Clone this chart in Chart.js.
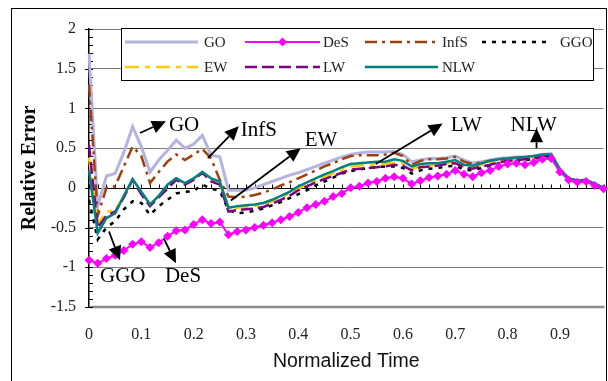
<!DOCTYPE html>
<html><head><meta charset="utf-8">
<script src="https://cdn.jsdelivr.net/npm/chart.js@4/dist/chart.umd.min.js"></script>
<style>html,body{margin:0;padding:0;background:#fff}#wrap{width:608px;height:381px}</style>
</head><body><div id="wrap"><canvas id="c" width="608" height="381"></canvas></div>
<script>
const times = [0,0.017,0.033,0.05,0.067,0.083,0.1,0.117,0.133,0.15,0.167,0.183,0.2,0.217,0.233,0.25,0.267,0.283,0.3,0.317,0.333,0.35,0.367,0.383,0.4,0.417,0.433,0.45,0.467,0.483,0.5,0.517,0.533,0.55,0.567,0.583,0.6,0.617,0.633,0.65,0.667,0.683,0.7,0.717,0.733,0.75,0.767,0.783,0.8,0.817,0.833,0.85,0.867,0.883,0.9,0.917,0.933,0.95,0.967,0.983];
const xTickLabels = ['0','0.1','0.2','0.3','0.4','0.5','0.6','0.7','0.8','0.9'];
const yTickValues = [2,1.5,1,0.5,0,-0.5,-1,-1.5];

const GO   = [1.69,-0.23,0.15,0.18,0.45,0.77,0.52,0.2,0.35,0.47,0.6,0.5,0.55,0.66,0.41,0.39,-0.03,-0.03,-0.03,0.0,0.04,0.08,0.12,0.16,0.19,0.23,0.27,0.31,0.35,0.39,0.42,0.44,0.45,0.45,0.45,0.46,0.42,0.33,0.35,0.37,0.37,0.38,0.40,0.35,0.31,0.33,0.35,0.37,0.38,0.39,0.39,0.40,0.42,0.43,0.24,0.12,0.09,0.10,0.05,0.0];
const DeS  = [-0.91,-0.95,-0.89,-0.85,-0.79,-0.71,-0.68,-0.75,-0.69,-0.61,-0.54,-0.53,-0.46,-0.40,-0.45,-0.43,-0.59,-0.55,-0.53,-0.50,-0.47,-0.44,-0.40,-0.36,-0.31,-0.25,-0.21,-0.17,-0.11,-0.07,0.0,0.02,0.06,0.08,0.12,0.14,0.12,0.05,0.09,0.13,0.15,0.17,0.22,0.17,0.14,0.19,0.22,0.27,0.30,0.31,0.29,0.32,0.36,0.37,0.20,0.10,0.07,0.08,0.03,-0.01];
const InfS = [1.3,-0.35,0.0,0.02,0.27,0.52,0.4,0.06,0.2,0.33,0.42,0.35,0.42,0.49,0.37,0.1,-0.11,-0.12,-0.11,-0.09,-0.06,-0.02,0.03,0.07,0.12,0.17,0.22,0.27,0.31,0.36,0.40,0.41,0.41,0.41,0.42,0.44,0.40,0.29,0.34,0.36,0.36,0.37,0.39,0.33,0.30,0.32,0.34,0.36,0.37,0.38,0.38,0.39,0.40,0.41,0.22,0.12,0.09,0.10,0.05,0.0];
const GGO  = [-0.15,-0.65,-0.5,-0.42,-0.27,-0.17,-0.19,-0.34,-0.23,-0.15,-0.07,-0.05,-0.04,0.04,-0.01,-0.04,-0.28,-0.32,-0.31,-0.29,-0.26,-0.22,-0.18,-0.13,-0.08,-0.03,0.03,0.08,0.13,0.18,0.21,0.23,0.25,0.26,0.27,0.27,0.25,0.18,0.22,0.24,0.25,0.27,0.28,0.23,0.22,0.25,0.28,0.31,0.33,0.34,0.35,0.36,0.39,0.40,0.21,0.11,0.08,0.09,0.04,-0.01];
const EW   = [0.38,-0.45,-0.3,-0.28,-0.1,0.11,-0.05,-0.21,-0.1,0.0,0.12,0.05,0.11,0.2,0.1,0.06,-0.26,-0.25,-0.24,-0.23,-0.21,-0.17,-0.12,-0.07,-0.01,0.04,0.09,0.14,0.18,0.23,0.27,0.28,0.29,0.30,0.30,0.32,0.31,0.24,0.27,0.28,0.29,0.31,0.33,0.27,0.26,0.29,0.31,0.34,0.35,0.36,0.37,0.38,0.41,0.41,0.22,0.11,0.08,0.09,0.04,-0.01];
const LW   = [0.54,-0.5,-0.35,-0.3,-0.12,0.1,-0.08,-0.23,-0.12,-0.01,0.1,0.04,0.1,0.19,0.08,0.04,-0.3,-0.28,-0.27,-0.26,-0.24,-0.2,-0.15,-0.1,-0.03,0.02,0.07,0.11,0.15,0.19,0.23,0.24,0.25,0.26,0.27,0.29,0.28,0.22,0.26,0.27,0.28,0.30,0.31,0.26,0.24,0.27,0.29,0.32,0.34,0.35,0.36,0.37,0.40,0.41,0.22,0.11,0.08,0.09,0.04,-0.01];
const NLW  = [0.22,-0.57,-0.38,-0.32,-0.1,0.11,-0.05,-0.21,-0.1,0.04,0.12,0.06,0.12,0.2,0.12,0.08,-0.25,-0.23,-0.22,-0.21,-0.19,-0.15,-0.10,-0.05,0.02,0.07,0.12,0.17,0.21,0.26,0.30,0.31,0.32,0.33,0.33,0.36,0.34,0.27,0.30,0.31,0.31,0.33,0.35,0.29,0.28,0.31,0.34,0.36,0.37,0.38,0.39,0.40,0.42,0.42,0.23,0.12,0.09,0.10,0.05,0.0];

// annotation labels and arrows in data coordinates (category index, value)
const noteTexts  = ['GO','InfS','EW','LW','NLW','GGO','DeS'];
const noteX      = [9.16,17.4,24.74,41.47,48.34,1.26,8.71];
const noteY      = [0.79,0.725,0.6,0.79,0.79,-1.11,-1.11];
const arrowFrom  = [[5.84,0.69],[13.63,0.375],[16.27,-0.16],[32.88,0.3],[51.32,0.5],[2.29,-0.55],[8.59,-0.64]];
const arrowTo    = [[8.82,0.84],[17.18,0.775],[24.28,0.5],[40.55,0.81],[51.32,0.75],[3.55,-0.91],[9.97,-0.95]];

const SERIF = '"Liberation Serif","Times New Roman",serif';
const SANS = '"Liberation Sans",Arial,sans-serif';

const seriesNames = ['GO','DeS','InfS','GGO','EW','LW','NLW'];
const seriesData = [GO,DeS,InfS,GGO,EW,LW,NLW];
const seriesColor = ['#b4b4de','#ff00ff','#a0400c','#000000','#ffcc00','#800080','#008080'];
const seriesDash = [[],[],[12,5,3,5],[4,6],[14,6,5,6],[12,5],[]];
const seriesWidth = [3,2,2.5,2.5,2.5,2.5,2.5];
const seriesOrder = [6,-1,4,3,2,1,0];

const datasets = seriesNames.map((n,i)=>({
  label:n, data:seriesData[i], borderColor:seriesColor[i], backgroundColor:seriesColor[i],
  borderDash:seriesDash[i], borderWidth:seriesWidth[i], tension:0, order:seriesOrder[i],
  pointRadius: n==='DeS'?4.5:0, pointStyle:'rectRot', pointBorderWidth:0, pointHoverRadius:0,
  borderCapStyle:'butt'
}));

function arrow(ctx,x1,y1,x2,y2){
  const a=Math.atan2(y2-y1,x2-x1), L=14, W=6.5;
  const bx=x2-L*Math.cos(a), by=y2-L*Math.sin(a);
  ctx.beginPath();ctx.moveTo(x1,y1);ctx.lineTo(bx,by);ctx.stroke();
  ctx.beginPath();ctx.moveTo(x2,y2);
  ctx.lineTo(bx+W*Math.sin(a),by-W*Math.cos(a));
  ctx.lineTo(bx-W*Math.sin(a),by+W*Math.cos(a));
  ctx.closePath();ctx.fill();
}

const decor = {
  id:'decor',
  beforeDraw(chart){
    const ctx=chart.ctx;
    ctx.save();ctx.fillStyle='#fff';ctx.fillRect(0,0,chart.width,chart.height);
    ctx.strokeStyle='#000';ctx.lineWidth=1;
    ctx.strokeRect(11.5,8.5,595,400);
    ctx.restore();
  },
  beforeDatasetsDraw(chart){
    const ctx=chart.ctx, xs=chart.scales.x, ys=chart.scales.y, ca=chart.chartArea;
    ctx.save();
    ctx.strokeStyle='#8c8c8c';ctx.lineWidth=2.5;
    ctx.beginPath();ctx.moveTo(ca.left,ys.getPixelForValue(-1.5));ctx.lineTo(ca.right+1,ys.getPixelForValue(-1.5));ctx.stroke();
    const y0=Math.round(ys.getPixelForValue(0))+0.5;
    ctx.strokeStyle='#000';ctx.lineWidth=1;
    ctx.beginPath();ctx.moveTo(ca.left,y0);ctx.lineTo(ca.right,y0);ctx.stroke();
    ctx.beginPath();
    for(let i=0;i<times.length;i++){
      const x=Math.round(xs.getPixelForValue(i))+0.5;
      ctx.moveTo(x,y0);ctx.lineTo(x,y0-4);
    }
    ctx.stroke();
    ctx.beginPath();
    for(let k=-15;k<=20;k++){
      const y=Math.round(ys.getPixelForValue(k/10))+0.5;
      if(k%5===0){ctx.moveTo(ca.left-4,y);ctx.lineTo(ca.left+4,y);}
      else {ctx.moveTo(ca.left,y);ctx.lineTo(ca.left+4,y);}
    }
    ctx.stroke();
    ctx.restore();
  },
  afterDatasetsDraw(chart){
    const ctx=chart.ctx, xs=chart.scales.x, ys=chart.scales.y;
    ctx.save();
    const bx=121.5, by=28.5, bw=472, bh=52;
    ctx.fillStyle='#fff';ctx.fillRect(bx,by,bw,bh);
    ctx.strokeStyle='#000';ctx.lineWidth=1;ctx.strokeRect(bx,by,bw,bh);
    const colX=[[125,198,204],[245,320,323],[365,438,442],[482,548,560]];
    const rowY=[42,67];
    ctx.font='15px '+SERIF;ctx.textBaseline='middle';ctx.textAlign='left';
    seriesNames.forEach((name,k)=>{
      const r=k<4?0:1, c=k<4?k:k-4;
      const [x1,x2,tx]=colX[c], y=rowY[r];
      ctx.strokeStyle=seriesColor[k];ctx.lineWidth=seriesWidth[k];ctx.setLineDash(seriesDash[k]);
      ctx.beginPath();ctx.moveTo(x1,y);ctx.lineTo(x2,y);ctx.stroke();ctx.setLineDash([]);
      if(name==='DeS'){
        const mx=(x1+x2)/2;ctx.fillStyle=seriesColor[k];
        ctx.beginPath();ctx.moveTo(mx,y-4.5);ctx.lineTo(mx+4.5,y);ctx.lineTo(mx,y+4.5);ctx.lineTo(mx-4.5,y);ctx.closePath();ctx.fill();
      }
      ctx.fillStyle='#222';ctx.fillText(name,tx,y+1);
    });
    ctx.fillStyle='#000';ctx.strokeStyle='#000';ctx.lineWidth=1.8;
    ctx.font='21px '+SERIF;ctx.textBaseline='middle';ctx.textAlign='left';
    noteTexts.forEach((t,i)=>{
      ctx.fillText(t,xs.getPixelForValue(noteX[i]),ys.getPixelForValue(noteY[i]));
      arrow(ctx,xs.getPixelForValue(arrowFrom[i][0]),ys.getPixelForValue(arrowFrom[i][1]),
                xs.getPixelForValue(arrowTo[i][0]),ys.getPixelForValue(arrowTo[i][1]));
    });
    ctx.restore();
  }
};

new Chart(document.getElementById('c'),{
  type:'line',
  data:{labels:times,datasets},
  options:{
    responsive:false,animation:false,
    layout:{padding:{left:0,right:2,top:29,bottom:0}},
    plugins:{legend:{display:false},tooltip:{enabled:false}},
    scales:{
      x:{
        type:'category',offset:false,
        grid:{display:false,drawTicks:false},border:{display:false},
        ticks:{autoSkip:false,maxRotation:0,minRotation:0,padding:18,color:'#222',
          font:{family:SERIF,size:16},
          callback:(v,i)=> (i%6===0 && i/6<xTickLabels.length)? xTickLabels[i/6] : ''},
        title:{display:true,text:'Normalized Time',color:'#111',font:{family:SANS,size:19.5},padding:{top:0,bottom:8}},
        afterFit(s){s.height=74;s.paddingLeft=0;s.paddingRight=0;}
      },
      y:{
        min:-1.5,max:2,
        afterBuildTicks(s){s.ticks=yTickValues.map(v=>({value:v}));},
        grid:{drawTicks:false,lineWidth:1,
          color:c=>(c.tick && (c.tick.value===0||c.tick.value===-1.5))?'rgba(0,0,0,0)':'#7a7a7a'},
        border:{display:true,color:'#000',width:1.5},
        ticks:{padding:13,color:'#222',font:{family:SERIF,size:16},
          callback:v=>String(v)},
        title:{display:true,text:'Relative Error',color:'#000',font:{family:SERIF,size:20,weight:'bold'},padding:{top:18,bottom:0}},
        afterFit(s){s.width=89;}
      }
    }
  },
  plugins:[decor]
});
</script>
</body></html>
